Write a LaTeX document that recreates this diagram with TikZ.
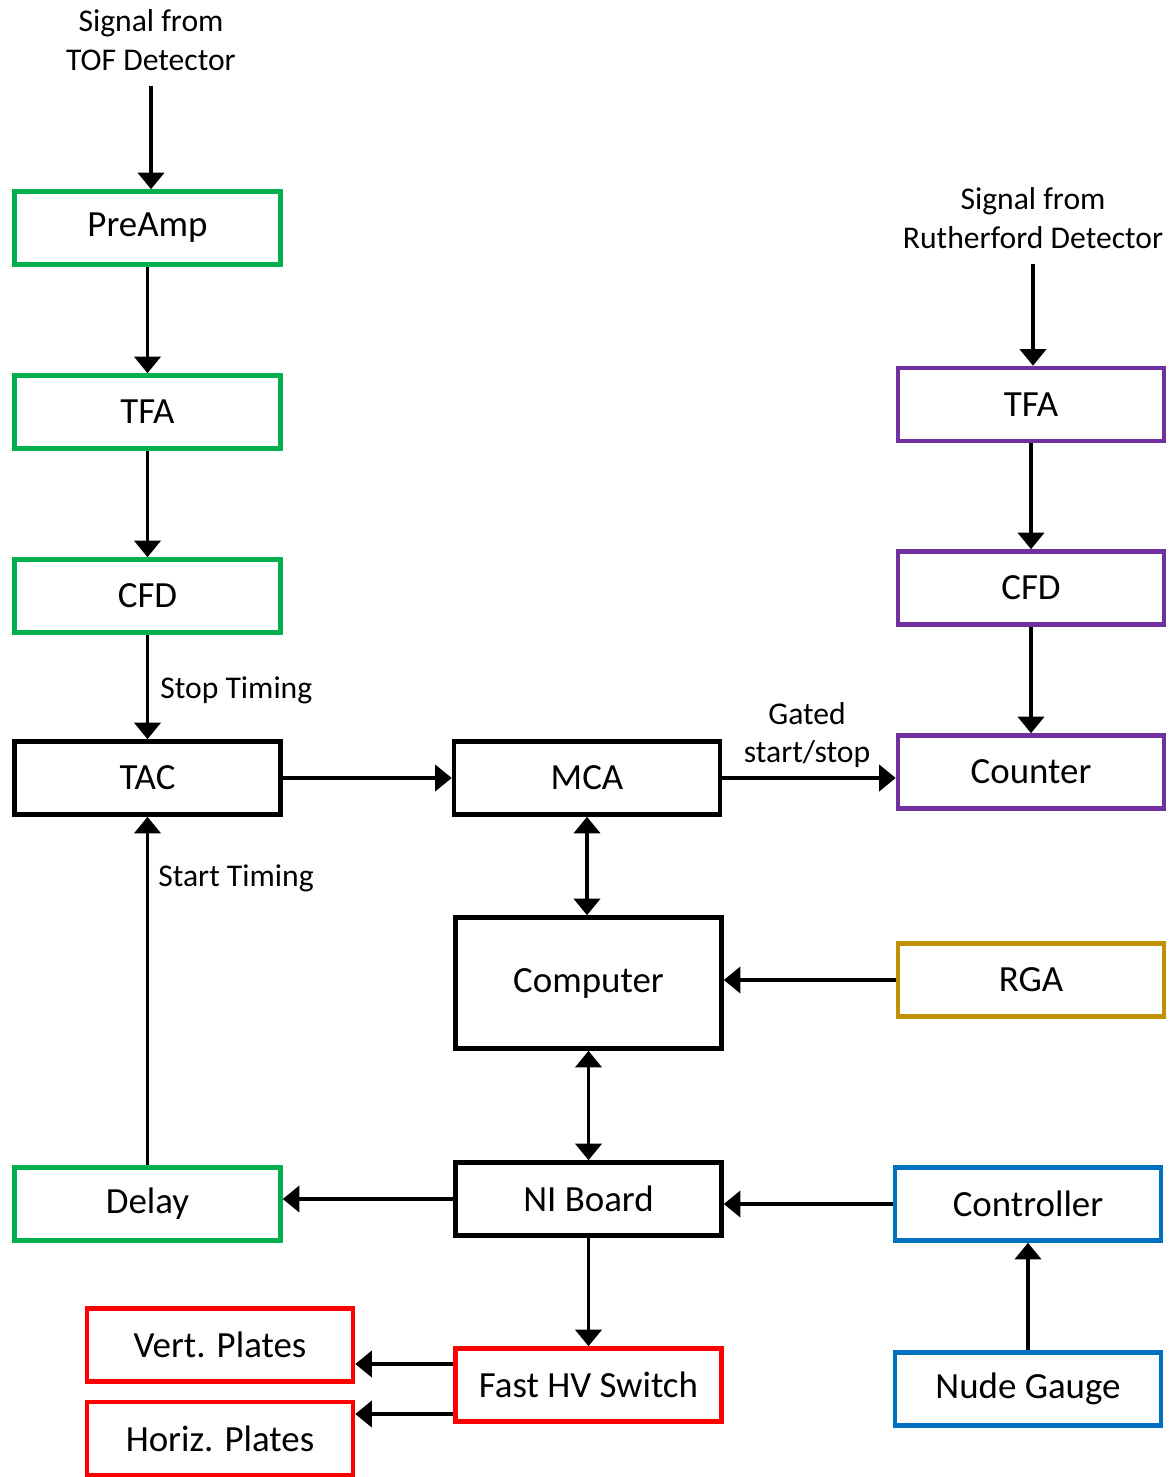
\documentclass[tikz,border=0pt]{standalone}
\usepackage{fontspec}
\setmainfont{Carlito}
\usetikzlibrary{arrows.meta}
\definecolor{boxgreen}{RGB}{0,176,80}
\definecolor{boxpurple}{RGB}{112,48,160}
\definecolor{boxgold}{RGB}{191,144,0}
\definecolor{boxblue}{RGB}{0,112,192}
\definecolor{boxred}{RGB}{255,0,0}
\begin{document}
\begin{tikzpicture}
	\tikzset{
	block/.style = {draw, line width=2.6pt, minimum width=5.32cm,
		minimum height=1.46cm, inner sep=0pt,
		font=\fontsize{21}{25}\selectfont},
	lbl/.style = {align=center, inner sep=0pt,
		font=\fontsize{18}{22}\selectfont},
	arr/.style = {line width=2pt,
		-{Triangle[width=15pt,length=9.5pt]}},
	both/.style = {line width=2pt,
		{Triangle[width=15pt,length=9.5pt]}-{Triangle[width=15pt,length=9.5pt]}}}
	
	\useasboundingbox (0,0) rectangle (23.4,-29.54);
	
	\node[lbl] (tof) at (3.02,-0.80) {Signal from\\TOF Detector};
	\node[lbl] (ruth) at (20.66,-4.36) {Signal from\\Rutherford Detector};
	
	\node[block,boxgreen] (preamp) at (2.95,-4.56) {\color{black}PreAmp};
	\node[block,boxgreen] (tfal) at (2.95,-8.24) {\color{black}TFA};
	\node[block,boxgreen] (cfdl) at (2.95,-11.92) {\color{black}CFD};
	\node[block] (tac) at (2.95,-15.56) {TAC};
	\node[block,boxgreen] (delay) at (2.95,-24.08) {\color{black}Delay};
	
	\node[block] (mca) at (11.74,-15.56) {MCA};
	\node[block,minimum height=2.62cm] (comp) at (11.77,-19.66) {Computer};
	\node[block] (ni) at (11.77,-23.98) {NI Board};
	\node[block,boxred] (fast) at (11.77,-27.70) {\color{black}Fast HV Switch};
	
	\node[block,boxred] (vert) at (4.40,-26.90) {\color{black}Vert. Plates};
	\node[block,boxred] (horiz) at (4.40,-28.77) {\color{black}Horiz. Plates};
	
	\node[block,boxpurple] (tfar) at (20.62,-8.09) {\color{black}TFA};
	\node[block,boxpurple] (cfdr) at (20.62,-11.76) {\color{black}CFD};
	\node[block,boxpurple] (counter) at (20.62,-15.44) {\color{black}Counter};
	\node[block,boxgold] (rga) at (20.62,-19.60) {\color{black}RGA};
	\node[block,boxblue] (ctrl) at (20.56,-24.08) {\color{black}Controller};
	\node[block,boxblue] (gauge) at (20.56,-27.78) {\color{black}Nude Gauge};
	
	\node[lbl,anchor=west] (stop) at (3.20,-13.80) {Stop Timing};
	\node[lbl,anchor=west] (start) at (3.16,-17.56) {Start Timing};
	\node[lbl] (gated) at (16.14,-14.70) {Gated\\start/stop};
	
	\draw[arr] ([yshift=-0.3cm]tof.south) -- (tof.south |- preamp.north);
	\draw[arr] (preamp) -- (tfal);
	\draw[arr] (tfal) -- (cfdl);
	\draw[arr] (cfdl) -- (tac);
	\draw[arr] (tac) -- (mca);
	\draw[arr] (mca.east) -- (counter.west |- mca.east);
	\draw[both] (mca.south) -- (mca.south |- comp.north);
	\draw[arr] (rga.west) -- (comp.east |- rga.west);
	\draw[both] (comp) -- (ni);
	\draw[arr] (ni.west) -- (delay.east |- ni.west);
	\draw[arr] (delay) -- (tac);
	\draw[arr] (ctrl.west) -- (ni.east |- ctrl.west);
	\draw[arr] (gauge) -- (ctrl);
	\draw[arr] (ni) -- (fast);
	\draw[arr] ([yshift=0.42cm]fast.west) -- ([yshift=-0.38cm]vert.east);
	\draw[arr] ([yshift=-0.58cm]fast.west) -- ([yshift=0.49cm]horiz.east);
	\draw[arr] ([yshift=-0.3cm]ruth.south) -- (ruth.south |- tfar.north);
	\draw[arr] (tfar) -- (cfdr);
	\draw[arr] (cfdr) -- (counter);
	
\end{tikzpicture}
\end{document}
